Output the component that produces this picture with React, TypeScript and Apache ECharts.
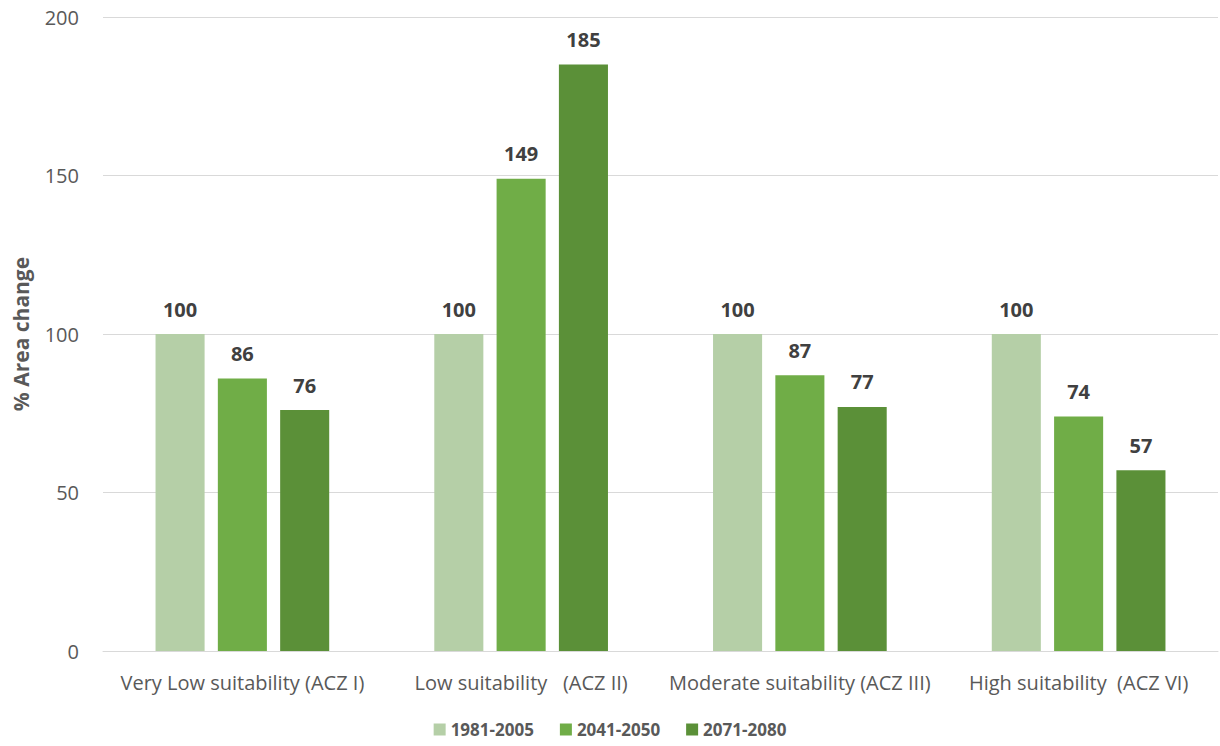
import React, { useEffect, useRef } from "react";
import * as echarts from "echarts";

const categories = [
  "Very Low suitability (ACZ I)",
  "Low suitability   (ACZ II)",
  "Moderate suitability (ACZ III)",
  "High suitability  (ACZ VI)",
];
const seriesNames = ["1981-2005", "2041-2050", "2071-2080"];
const values1981 = [100, 100, 100, 100];
const values2041 = [86, 149, 87, 74];
const values2071 = [76, 185, 77, 57];
const colors = ["#b5cfa7", "#70ad47", "#5b9038"];

const FONT = "'Open Sans', sans-serif";

export default function App() {
  const ref = useRef<HTMLDivElement>(null);
  useEffect(() => {
    if (!ref.current) return;
    const chart = echarts.init(ref.current, undefined, { renderer: "svg" });
    const data = [values1981, values2041, values2071];
    chart.setOption({
      animation: false,
      textStyle: { fontFamily: FONT },
      grid: { left: 103, right: 2, top: 17, bottom: 95 },
      legend: {
        bottom: 3,
        left: "center",
        itemWidth: 12,
        itemHeight: 12,
        itemGap: 26,
        icon: "rect",
        textStyle: { fontFamily: FONT, fontSize: 17, fontWeight: "bold", color: "#595959" },
        data: seriesNames,
      },
      xAxis: {
        type: "category",
        data: categories,
        axisLine: { lineStyle: { color: "#d9d9d9", width: 1 } },
        axisTick: { show: false },
        axisLabel: { fontFamily: FONT, fontSize: 20, color: "#595959", margin: 21, interval: 0 },
      },
      yAxis: {
        type: "value",
        min: 0,
        max: 200,
        interval: 50,
        name: "% Area change",
        nameLocation: "middle",
        nameGap: 72,
        nameTextStyle: { fontFamily: FONT, fontSize: 21, fontWeight: "bold", color: "#595959" },
        axisLine: { show: false },
        axisTick: { show: false },
        axisLabel: { fontFamily: FONT, fontSize: 20, color: "#595959", margin: 24 },
        splitLine: { lineStyle: { color: "#d9d9d9", width: 1 } },
      },
      series: seriesNames.map((name, i) => ({
        name,
        type: "bar",
        data: data[i],
        barWidth: "17.6%",
        barGap: "27%",
        itemStyle: { color: colors[i] },
        label: {
          show: true,
          position: "top",
          distance: 15,
          fontFamily: FONT,
          fontSize: 20,
          fontWeight: "bold",
          color: "#404040",
        },
      })),
    });
    return () => chart.dispose();
  }, []);
  return <div ref={ref} style={{ width: 1220, height: 746, position: "absolute", left: 0, top: 0 }} />;
}
